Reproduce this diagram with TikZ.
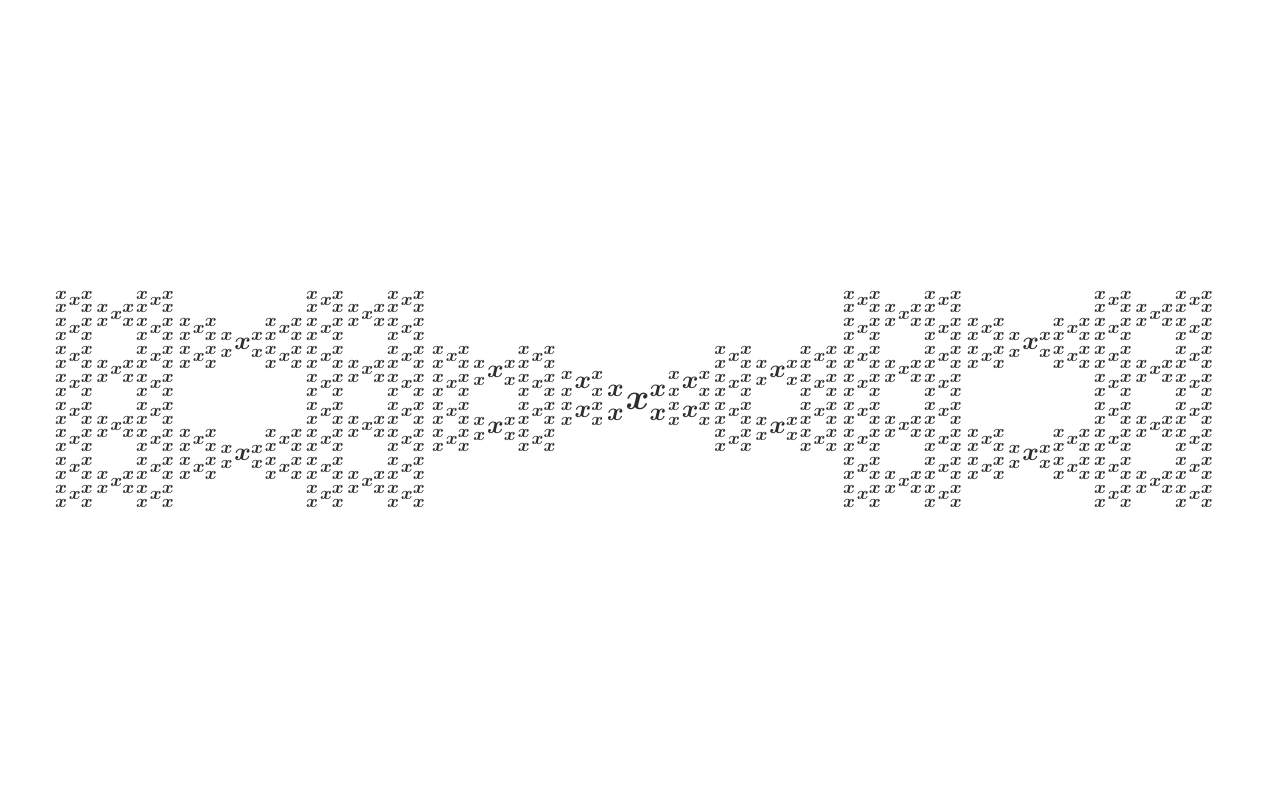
\documentclass[tikz,border=0pt]{standalone}
\usepackage{graphicx}
% one design size for every script level
\DeclareFontShape{OML}{cmm}{b}{it}{<-> cmmib10}{}
\DeclareFontShape{OMS}{cmsy}{b}{n}{<-> cmbsy10}{}

% one x with the same tree on all four corners
\newcommand\xtree[1]{\ifnum#1=0 x\else\xlevel{\the\numexpr#1-1\relax}\fi}
\newcommand\xlevel[1]{{\vphantom{\xtree{#1}}}^{\xtree{#1}}_{\xtree{#1}}{\xtree{#1}}^{\xtree{#1}}_{\xtree{#1}}}

\tikzset{xtext/.style={text=black!82, inner sep=0pt}}

\begin{document}
\begin{tikzpicture}
  \useasboundingbox (0,0) rectangle (16,10.05);
  \node[xtext] (fractal) at (7.97,5.06) {\resizebox{14.56cm}{!}{\boldmath$\xtree{4}$}};
\end{tikzpicture}
\end{document}
